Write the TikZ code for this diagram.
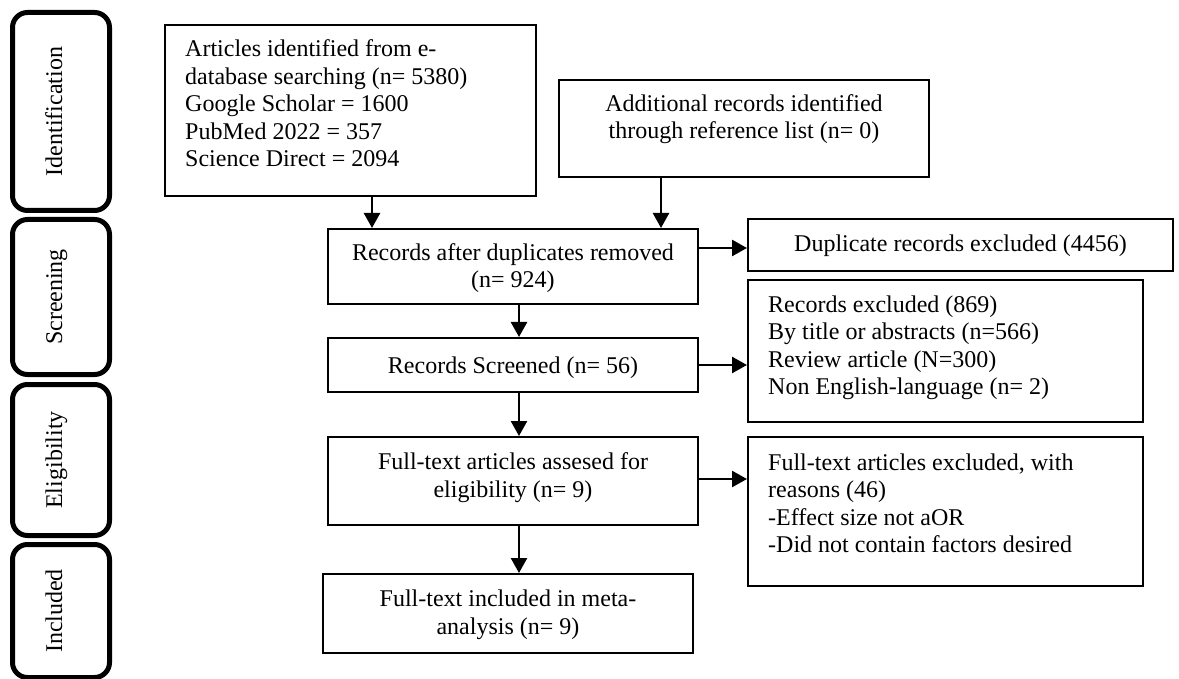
\documentclass[tikz,border=0pt]{standalone}
\usepackage{fontspec}
\setmainfont{Liberation Serif}
\usetikzlibrary{arrows.meta}
\tikzset{
  box/.style={draw, line width=2pt, inner sep=0pt},
  phase/.style={draw, line width=5pt, rounded corners=15pt},
  txt/.style={inner sep=0pt, font=\fontsize{24}{27.5}\selectfont},
  arr/.style={line width=2.5pt, -{Triangle[length=15pt,width=16pt]}}
}
\begin{document}
\begin{tikzpicture}[x=1pt,y=-1pt]
\useasboundingbox (0,0) rectangle (1179,679);
% phase bars
\draw[phase] (12.5,12.5) rectangle (109.5,210.5);
\draw[phase] (12.5,219.5) rectangle (109.5,374.5);
\draw[phase] (12.5,384.5) rectangle (109.5,535.5);
\draw[phase] (12.5,544.5) rectangle (109.5,677.5);
\node[txt, rotate=90, anchor=base] (pI) at (62,111.5) {Identification};
\node[txt, rotate=90, anchor=base] (pS) at (62,297) {Screening};
\node[txt, rotate=90, anchor=base] (pE) at (62,460) {Eligibility};
\node[txt, rotate=90, anchor=base] (pN) at (62,611) {Included};
% boxes
\node[box, minimum width=371pt, minimum height=171pt] (b1) at (350.5,110.5) {};
\node[box, minimum width=370pt, minimum height=97pt] (add) at (744,128.5) {};
\node[box, minimum width=370pt, minimum height=75pt] (rec) at (513,266.5) {};
\node[box, minimum width=370pt, minimum height=54pt] (scr) at (513,365) {};
\node[box, minimum width=370pt, minimum height=88pt] (fta) at (513,481) {};
\node[box, minimum width=370pt, minimum height=79pt] (inc) at (508,613.5) {};
\node[box, minimum width=425pt, minimum height=52pt] (dup) at (960.5,245) {};
\node[box, minimum width=395pt, minimum height=142pt] (rex) at (945.5,351) {};
\node[box, minimum width=395pt, minimum height=149pt] (fex) at (945.5,511.5) {};
% texts (anchor = baseline of last line)
\node[txt, align=left, anchor=base west] (t1) at (185,167) {Articles identified from e-\\database searching (n= 5380)\\Google Scholar = 1600\\PubMed 2022 = 357\\Science Direct = 2094};
\node[txt, align=center, anchor=base] (t2) at (744,139) {Additional records identified\\through reference list (n= 0)};
\node[txt, align=center, anchor=base] (t3) at (513,288) {Records after duplicates removed\\(n= 924)};
\node[txt, anchor=base] (t4) at (513,373) {Records Screened (n= 56)};
\node[txt, align=center, anchor=base] (t5) at (513,497) {Full-text articles assesed for\\eligibility (n= 9)};
\node[txt, align=center, anchor=base] (t6) at (508,634) {Full-text included in meta-\\analysis (n= 9)};
\node[txt, anchor=base] (t7) at (960.5,252) {Duplicate records excluded (4456)};
\node[txt, align=left, anchor=base west] (t8) at (768,394.5) {Records excluded (869)\\By title or abstracts (n=566)\\Review article (N=300)\\Non English-language (n= 2)};
\node[txt, align=left, anchor=base west] (t9) at (768,552.5) {Full-text articles excluded, with\\reasons (46)\\-Effect size not aOR\\-Did not contain factors desired};
% connector helpers
\coordinate (xa) at (372,0);
\coordinate (xb) at (661,0);
\coordinate (xc) at (519,0);
\coordinate (ya) at (0,248);
\coordinate (yb) at (0,365);
\coordinate (yc) at (0,479);
% arrows
\draw[arr] (b1.south -| xa) -- (rec.north -| xa);
\draw[arr] (add.south -| xb) -- (rec.north -| xb);
\draw[arr] (rec.east |- ya) -- (dup.west |- ya);
\draw[arr] (rec.south -| xc) -- (scr.north -| xc);
\draw[arr] (scr.east |- yb) -- (rex.west |- yb);
\draw[arr] (scr.south -| xc) -- (fta.north -| xc);
\draw[arr] (fta.east |- yc) -- (fex.west |- yc);
\draw[arr] (fta.south -| xc) -- (inc.north -| xc);
\end{tikzpicture}
\end{document}
